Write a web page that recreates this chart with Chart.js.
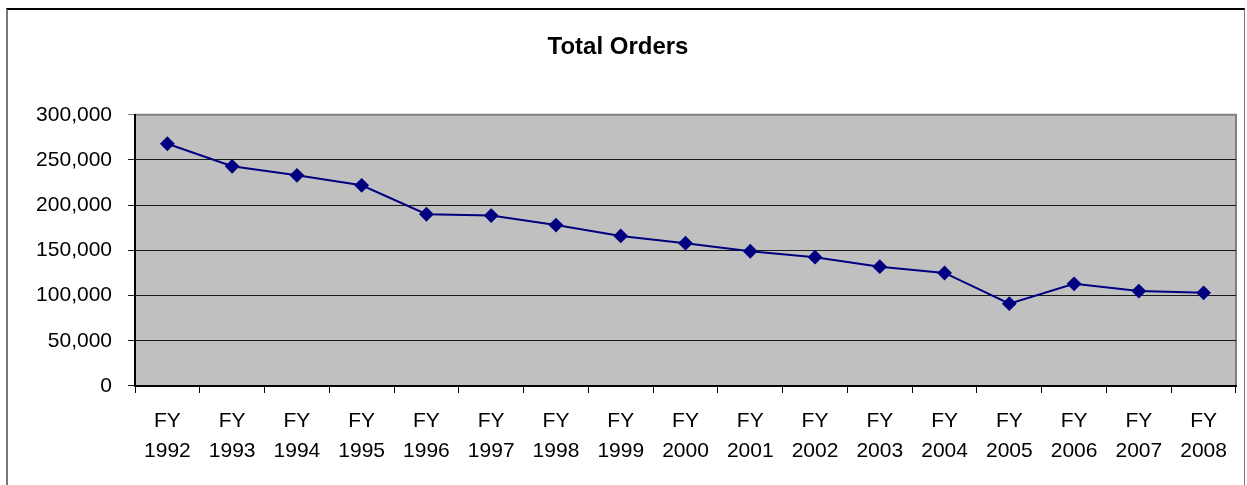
<!DOCTYPE html>
<html>
<head>
<meta charset="utf-8">
<script src="https://cdn.jsdelivr.net/npm/chart.js@4.4.1/dist/chart.umd.min.js"></script>
<style>
  body { margin: 0; background: #fff; }
  #frame { position: absolute; left: 6px; top: 8px; width: 1236px; height: 520px;
           border-top: 2px solid #000; border-left: 2px solid #777; border-right: 1px solid #777; }
  #wrap { position: absolute; left: 0; top: 0; width: 1247px; height: 485px; }
</style>
</head>
<body>
<div id="frame"></div>
<div id="wrap"><canvas id="myChart" width="1247" height="485"></canvas></div>
<script>
// data
let years = ['1992', '1993', '1994', '1995', '1996', '1997', '1998', '1999', '2000',
             '2001', '2002', '2003', '2004', '2005', '2006', '2007', '2008'];
let orders = [268000, 243000, 233000, 222000, 190000, 188500, 178000, 166000, 158000,
              149000, 142500, 132000, 125000, 91000, 113000, 105000, 103000];
let yTicks = [0, 50000, 100000, 150000, 200000, 250000, 300000];

let labels = years.map(y => ['FY', y]);

// grey plot area with a light outline on top and right
let plotBg = {
    id: 'plotBg',
    beforeDraw(chart) {
        let a = chart.chartArea, c = chart.ctx;
        c.save();
        c.fillStyle = '#C0C0C0';
        c.fillRect(a.left, a.top, a.right - a.left, a.bottom - a.top);
        c.strokeStyle = '#808080';
        c.lineWidth = 2;
        c.beginPath();
        c.moveTo(a.left, a.top);
        c.lineTo(a.right, a.top);
        c.lineTo(a.right, a.bottom);
        c.stroke();
        c.restore();
    }
};

Chart.defaults.font.family = '"Liberation Sans", Arial, sans-serif';
Chart.defaults.color = '#000';

let ctx = document.querySelector("#myChart");

new Chart(ctx, {
    type: 'line',
    data: {
        labels: labels,
        datasets: [{
            label: 'Total Orders',
            data: orders,
            borderColor: '#000080',
            backgroundColor: '#000080',
            borderWidth: 2,
            pointStyle: 'rectRot',
            pointRadius: 6,
            pointHoverRadius: 6,
            tension: 0
        }]
    },
    options: {
        responsive: false,
        animation: false,
        layout: { padding: { top: 0, right: 11, bottom: 6, left: 0 } },
        plugins: {
            legend: { display: false },
            tooltip: { enabled: false },
            title: {
                display: true,
                text: 'Total Orders',
                font: { size: 24, weight: 'bold' },
                padding: { top: 33, bottom: 53 }
            }
        },
        scales: {
            x: {
                offset: true,
                grid: { drawOnChartArea: false, offset: true, tickLength: 7, color: '#000', lineWidth: 1 },
                border: { color: '#000', width: 2 },
                ticks: { font: { size: 21, lineHeight: 1.43 }, padding: 13, maxRotation: 0, autoSkip: false }
            },
            y: {
                min: 0,
                max: 300000,
                afterBuildTicks(scale) { scale.ticks = yTicks.map(v => ({ value: v })); },
                afterFit(scale) { scale.width = 135; },
                grid: {
                    tickLength: 7,
                    lineWidth: 1,
                    color: c => c.tick && c.tick.value === 300000 ? '#808080' : '#1a1a1a'
                },
                border: { color: '#000', width: 2 },
                ticks: {
                    font: { size: 21 },
                    padding: 16,
                    callback: v => v.toLocaleString('en-US')
                }
            }
        }
    },
    plugins: [plotBg]
});
</script>
</body>
</html>
